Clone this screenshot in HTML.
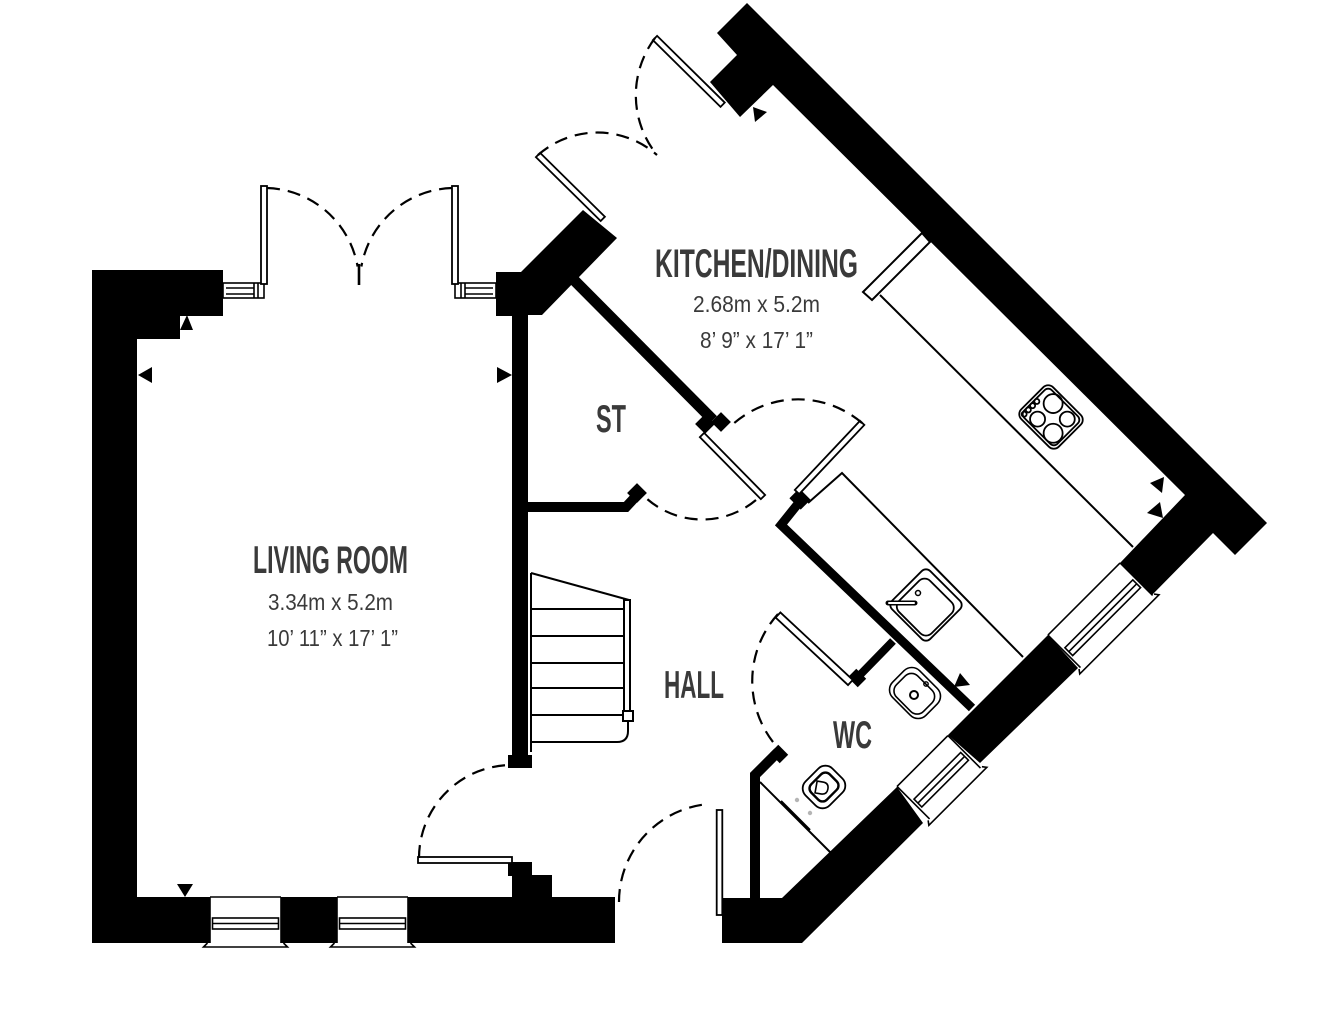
<!DOCTYPE html>
<html><head><meta charset="utf-8"><style>
html,body{margin:0;padding:0;background:#fff;}
svg{display:block;}
.t{font-family:"Liberation Sans Narrow","Liberation Sans",sans-serif;font-weight:bold;fill:#3a3a3a;}
.d{font-family:"Liberation Sans Narrow","Liberation Sans",sans-serif;fill:#3a3a3a;}
.ln{fill:none;stroke:#000;stroke-width:2;}
.dash{fill:none;stroke:#000;stroke-width:2.2;stroke-dasharray:13 8;}
.leaf{fill:#fff;stroke:#000;stroke-width:1.8;}
.win line,.win rect,.win path{fill:none;stroke:#000;stroke-width:1.6;}
</style></head><body>
<svg width="1338" height="1018" viewBox="0 0 1338 1018" xmlns="http://www.w3.org/2000/svg">
<rect width="1338" height="1018" fill="#fff"/>

<!-- ===== WALLS ===== -->
<g fill="#000">
  <path d="M92,270 H223 V316 H180 V339 H137 V897 H210 V943 H92 Z"/>
  <path d="M281,897 H337 V943 H281 Z"/>
  <path d="M408,897 H512 V875 H552 V897 H615 V943 H408 Z"/>
  <rect x="508" y="862" width="24" height="14"/>
  <path d="M496,272 L521,272 L583,210 L617,238 L542,315 L528,315 L528,755 L512,755 L512,316 L496,316 Z"/>
  <rect x="508" y="755" width="24" height="13"/>
  <path d="M747,3 L1267,523 L1235,555 L1213,533 L1152,595 L1120,563 L1185,495 L773,85 L740,117 L710,82 L737,55 L717,33 Z"/>
  <path d="M1048,635 L1078,668 L980,763 L948,735 Z"/>
  <path d="M897,787 L923,823 L802,943 L722,943 L722,898 L782,898 Z"/>
</g>

<!-- thin interior walls -->
<g fill="none" stroke="#000" stroke-linejoin="miter">
  <path d="M566,272 L713,420" stroke-width="11"/>
  <path d="M528,507 L626,507 L640,492" stroke-width="10"/>
  <path d="M801,500 L781,525 L972,708" stroke-width="9"/>
  <path d="M856,679 L893,641" stroke-width="8"/>
  <path d="M755,898 L755,775 L778,752" stroke-width="10"/>
</g>

<!-- jambs -->
<g fill="#000">
  <rect x="-7" y="-7" width="14" height="14" transform="translate(705,424) rotate(45)"/>
  <rect x="-7" y="-7" width="14" height="14" transform="translate(721,422) rotate(45)"/>
  <rect x="-8" y="-7" width="16" height="14" transform="translate(800,499) rotate(45)"/>
  <rect x="-7" y="-7" width="14" height="14" transform="translate(637,493) rotate(45)"/>
  <rect x="-7" y="-6" width="14" height="12" transform="translate(857,678) rotate(45)"/>
  <rect x="-7" y="-6" width="14" height="12" transform="translate(779,754) rotate(45)"/>
</g>

<!-- ===== WINDOWS ===== -->
<g class="win">
  <g transform="translate(245.5,897)">
    <line x1="-35.5" y1="0" x2="35.5" y2="0"/><line x1="-35.5" y1="0" x2="-35.5" y2="46"/><line x1="35.5" y1="0" x2="35.5" y2="46"/>
    <rect x="-33" y="21" width="66" height="11"/><line x1="-33" y1="26.5" x2="33" y2="26.5"/>
    <path d="M-38,46 L-42,50 H42 L38,46"/>
  </g>
  <g transform="translate(372.5,897)">
    <line x1="-35.5" y1="0" x2="35.5" y2="0"/><line x1="-35.5" y1="0" x2="-35.5" y2="46"/><line x1="35.5" y1="0" x2="35.5" y2="46"/>
    <rect x="-33" y="21" width="66" height="11"/><line x1="-33" y1="26.5" x2="33" y2="26.5"/>
    <path d="M-38,46 L-42,50 H42 L38,46"/>
  </g>
  <g transform="translate(1084,599) rotate(-45)">
    <line x1="-51" y1="0" x2="51" y2="0"/><line x1="-51" y1="0" x2="-51" y2="46"/><line x1="51" y1="0" x2="51" y2="46"/>
    <rect x="-48" y="21" width="96" height="11"/><line x1="-48" y1="26.5" x2="48" y2="26.5"/>
    <path d="M-53,46 L-56,50 H56 L53,46"/>
  </g>
  <g transform="translate(922.5,761) rotate(-45)">
    <line x1="-36" y1="0" x2="36" y2="0"/><line x1="-36" y1="0" x2="-36" y2="46"/><line x1="36" y1="0" x2="36" y2="46"/>
    <rect x="-33" y="21" width="66" height="11"/><line x1="-33" y1="26.5" x2="33" y2="26.5"/>
    <path d="M-38,46 L-41,50 H41 L38,46"/>
  </g>
  <!-- french door frames -->
  <rect x="223" y="283" width="41" height="15" fill="#fff"/>
  <line x1="226" y1="288" x2="254" y2="288"/><line x1="226" y1="294" x2="254" y2="294"/>
  <line x1="254" y1="283" x2="254" y2="298"/><line x1="258" y1="283" x2="258" y2="298"/>
  <rect x="455" y="283" width="41" height="15" fill="#fff"/>
  <line x1="465" y1="288" x2="493" y2="288"/><line x1="465" y1="294" x2="493" y2="294"/>
  <line x1="465" y1="283" x2="465" y2="298"/><line x1="461" y1="283" x2="461" y2="298"/>
</g>

<!-- ===== DOOR LEAVES ===== -->
<g class="leaf">
  <rect x="0" y="-3" width="98" height="6" transform="translate(264,186) rotate(90)"/>
  <rect x="0" y="-3" width="98" height="6" transform="translate(455,186) rotate(90)"/>
  <rect x="0" y="-3" width="95" height="6" transform="translate(655,38) rotate(44.6)"/>
  <rect x="0" y="-3" width="91" height="6" transform="translate(538,155) rotate(44.6)"/>
  <rect x="0" y="-3" width="87" height="6" transform="translate(702,435) rotate(45.5)"/>
  <rect x="0" y="-3" width="95" height="6" transform="translate(797,492) rotate(-46.7)"/>
  <rect x="0" y="-3.5" width="99" height="7" transform="translate(778,615) rotate(43)"/>
  <rect x="0" y="-3" width="94" height="6" transform="translate(418,860) rotate(0)"/>
  <rect x="0" y="-2.8" width="105" height="5.6" transform="translate(719.5,810) rotate(90)"/>
</g>

<!-- ===== DOOR SWINGS ===== -->
<g class="dash">
  <path d="M267,188 A95 95 0 0 1 357.6,266.5"/>
  <path d="M452,188 A95 95 0 0 0 361.4,266.5"/>
  <path d="M655,38 A95 95 0 0 0 657,155"/>
  <path d="M538,155 A90 90 0 0 1 657,155"/>
  <path d="M756,500 A84 84 0 0 1 646,498"/>
  <path d="M862,423 A98 98 0 0 0 732,425"/>
  <path d="M778,614 A100 100 0 0 0 778,748"/>
  <path d="M419,858 A93 93 0 0 1 512,765"/>
  <path d="M619,902 A98 98 0 0 1 709,804"/>
</g>
<line x1="359" y1="264" x2="359" y2="285" stroke="#000" stroke-width="2.6"/>

<!-- ===== STAIRS ===== -->
<g class="ln">
  <line x1="531" y1="573" x2="531" y2="752"/>
  <line x1="531" y1="573" x2="629" y2="600"/>
  <rect x="624" y="600" width="6" height="112" fill="#fff"/>
  <rect x="623" y="711" width="10" height="10" fill="#fff"/>
  <line x1="531" y1="609" x2="624" y2="609"/>
  <line x1="531" y1="636" x2="624" y2="636"/>
  <line x1="531" y1="663" x2="624" y2="663"/>
  <line x1="531" y1="688" x2="624" y2="688"/>
  <line x1="531" y1="715" x2="623" y2="715"/>
  <path d="M531,742 L617,742 Q628,742 628,731 L628,721"/>
</g>

<!-- ===== KITCHEN FITTINGS ===== -->
<g class="ln">
  <line x1="880" y1="295" x2="1133" y2="547"/>
  <path d="M863,292 L872,300 L930,242 L922,233 Z" fill="#fff"/>
  <path d="M808,503 L842,473 L1023,657"/>
</g>
<!-- hob -->
<g transform="translate(1051,417) rotate(45)" fill="none" stroke="#000" stroke-width="1.8">
  <rect x="-26.5" y="-22.5" width="53" height="45" rx="7" fill="#fff"/>
  <rect x="-23.5" y="-19.5" width="47" height="39" rx="5"/>
  <circle cx="-8" cy="-11" r="9.5"/>
  <circle cx="13" cy="10" r="9.5"/>
  <circle cx="-8" cy="11" r="7.5"/>
  <circle cx="13" cy="-10" r="7.5"/>
  <circle cx="-21" cy="-1" r="2.5"/><circle cx="-21" cy="5" r="2.5"/><circle cx="-21" cy="11" r="2.5"/><circle cx="-21" cy="17" r="2.5"/>
</g>
<!-- kitchen sink -->
<g transform="translate(926,605) rotate(45)" fill="none" stroke="#000" stroke-width="1.8">
  <rect x="-27" y="-27" width="54" height="54" rx="6" fill="#fff"/>
  <rect x="-22" y="-20" width="46" height="44" rx="8"/>
</g>
<line x1="888" y1="603" x2="915" y2="603" stroke="#000" stroke-width="5" stroke-linecap="round"/>
<line x1="889" y1="603" x2="914" y2="603" stroke="#fff" stroke-width="2" stroke-linecap="round"/>
<circle cx="918" cy="593" r="2.5" fill="none" stroke="#000" stroke-width="1.5"/>
<!-- WC basin -->
<g transform="translate(915,693) rotate(45)" fill="none" stroke="#000" stroke-width="1.6">
  <rect x="-23.5" y="-19" width="47" height="38" rx="11" fill="#fff"/>
  <rect x="-19" y="-14" width="38" height="30" rx="9"/>
</g>
<circle cx="914" cy="695" r="4" fill="none" stroke="#000" stroke-width="2"/>
<circle cx="926" cy="684" r="2.2" fill="none" stroke="#000" stroke-width="1.4"/>
<!-- toilet -->
<g class="ln" stroke-width="1.6">
  <line x1="760" y1="782" x2="830" y2="852"/>
  <line x1="781" y1="801" x2="810" y2="830"/>
</g>
<g transform="translate(824,787) rotate(45)" fill="none" stroke="#000" stroke-width="1.8">
  <rect x="-17" y="-19" width="34" height="38" rx="10" fill="#fff"/>
  <rect x="-11" y="-13" width="22" height="26" rx="6" stroke-width="2.4"/>
</g>
<path d="M816,782 L816,794 L822,794 Q828,794 828,788 Q828,782 822,782 Z" fill="none" stroke="#000" stroke-width="1.6" transform="rotate(10 822 788)"/>
<circle cx="797" cy="800" r="2.2" fill="#b5b5b5"/>
<circle cx="810" cy="813" r="2.2" fill="#b5b5b5"/>

<!-- ===== MARKERS ===== -->
<g fill="#000">
  <path d="M187,315 L193,330 L180,330 Z"/>
  <path d="M138,375 L152,367 L152,383 Z"/>
  <path d="M512,375 L497,367 L497,383 Z"/>
  <path d="M177,884 L193,884 L185,897 Z"/>
  <path d="M753,107 L767,112 L755,122 Z"/>
  <path d="M1150,483 L1164,477 L1162,493 Z"/>
  <path d="M1147,513 L1160,502 L1163,518 Z"/>
  <path d="M960,673 L970,685 L954,687 Z"/>
</g>

<!-- ===== LABELS ===== -->
<text class="t" x="655" y="277" font-size="40" textLength="203" lengthAdjust="spacingAndGlyphs">KITCHEN/DINING</text>
<text class="d" x="693" y="312" font-size="23" textLength="127" lengthAdjust="spacingAndGlyphs">2.68m x 5.2m</text>
<text class="d" x="700" y="348" font-size="23" textLength="113" lengthAdjust="spacingAndGlyphs">8’ 9” x 17’ 1”</text>
<text class="t" x="253" y="573" font-size="39" textLength="155" lengthAdjust="spacingAndGlyphs">LIVING ROOM</text>
<text class="d" x="268" y="610" font-size="23" textLength="125" lengthAdjust="spacingAndGlyphs">3.34m x 5.2m</text>
<text class="d" x="267" y="646" font-size="23" textLength="131" lengthAdjust="spacingAndGlyphs">10’ 11” x 17’ 1”</text>
<text class="t" x="596" y="432" font-size="39" textLength="30" lengthAdjust="spacingAndGlyphs">ST</text>
<text class="t" x="664" y="698" font-size="39" textLength="60" lengthAdjust="spacingAndGlyphs">HALL</text>
<text class="t" x="833" y="748" font-size="39" textLength="39" lengthAdjust="spacingAndGlyphs">WC</text>
</svg>
</body></html>
